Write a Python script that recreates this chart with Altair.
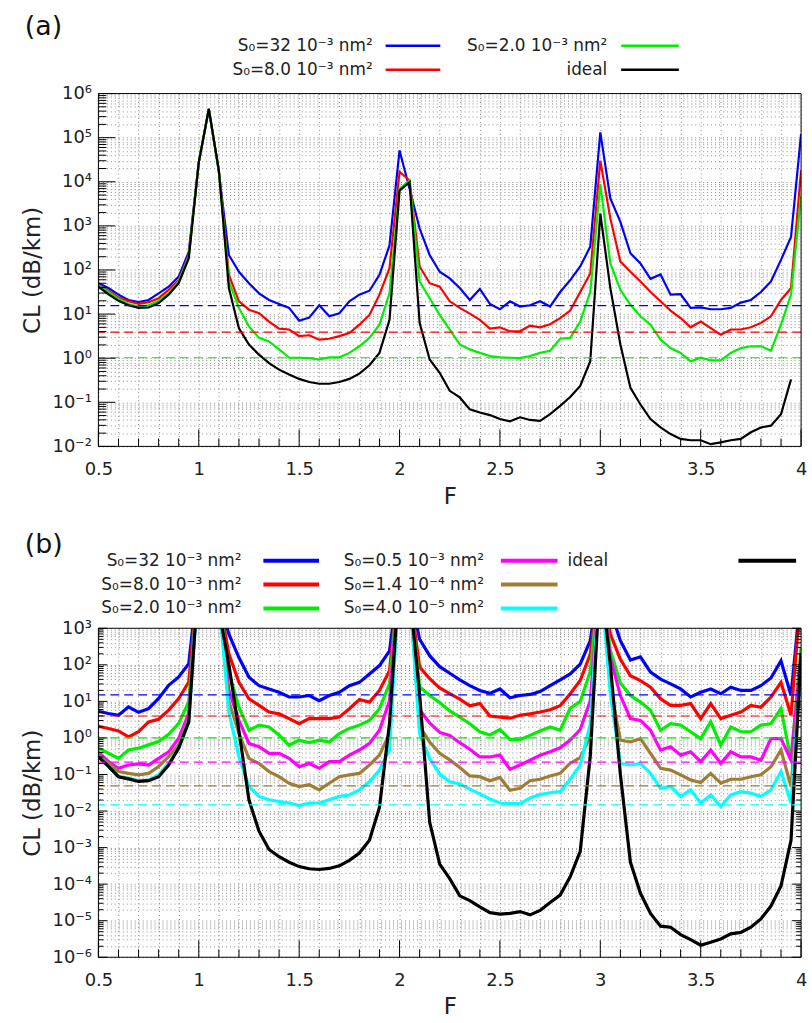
import altair as alt
import pandas as pd

FONT = "DejaVu Sans"

# ---------------- data (log10 of CL in dB/km) ----------------
F = [0.5, 0.55, 0.6, 0.65, 0.7, 0.75, 0.8, 0.85, 0.9, 0.95,
     1.0, 1.05, 1.1, 1.15, 1.2, 1.25, 1.3, 1.35, 1.4, 1.45,
     1.5, 1.55, 1.6, 1.65, 1.7, 1.75, 1.8, 1.85, 1.9, 1.95,
     2.0, 2.05, 2.1, 2.15, 2.2, 2.25, 2.3, 2.35, 2.4, 2.45,
     2.5, 2.55, 2.6, 2.65, 2.7, 2.75, 2.8, 2.85, 2.9, 2.95,
     3.0, 3.05, 3.1, 3.15, 3.2, 3.25, 3.3, 3.35, 3.4, 3.45,
     3.5, 3.55, 3.6, 3.65, 3.7, 3.75, 3.8, 3.85, 3.9, 3.95,
     4.0]

# panel (a)
A_S32 = [1.70, 1.59, 1.44, 1.32, 1.27, 1.32, 1.47, 1.62, 1.85, 2.41,
         4.44, 5.65, 4.22, 2.34, 1.96, 1.70, 1.47, 1.32, 1.23, 1.14,
         0.85, 0.92, 1.20, 0.95, 1.02, 1.29, 1.44, 1.53, 1.89, 2.56,
         4.71, 3.84, 2.94, 2.34, 1.96, 1.81, 1.59, 1.32, 1.57, 1.23,
         1.11, 1.29, 1.17, 1.20, 1.29, 1.17, 1.50, 1.77, 2.08, 2.53,
         5.12, 3.62, 3.09, 2.38, 2.15, 1.80, 1.90, 1.44, 1.45, 1.14,
         1.15, 1.11, 1.11, 1.14, 1.26, 1.32, 1.50, 1.74, 2.23, 2.75,
         5.08]
A_S8 = [1.66, 1.53, 1.38, 1.29, 1.23, 1.27, 1.36, 1.55, 1.77, 2.34,
        4.44, 5.65, 4.26, 1.89, 1.29, 1.10, 1.02, 0.83, 0.67, 0.65,
        0.50, 0.52, 0.42, 0.44, 0.50, 0.57, 0.76, 0.98, 1.44, 2.04,
        4.23, 4.03, 2.08, 1.70, 1.62, 1.29, 1.14, 1.01, 0.87, 0.67,
        0.70, 0.61, 0.61, 0.74, 0.70, 0.77, 0.91, 1.08, 1.50, 1.92,
        4.48, 3.17, 2.19, 1.96, 1.74, 1.50, 1.29, 1.08, 0.91, 0.70,
        0.83, 0.68, 0.53, 0.65, 0.65, 0.70, 0.80, 0.95, 1.32, 1.59,
        4.26]
A_S2 = [1.65, 1.50, 1.35, 1.23, 1.17, 1.20, 1.30, 1.47, 1.74, 2.30,
        4.44, 5.65, 4.26, 1.74, 1.14, 0.72, 0.46, 0.38, 0.20, 0.01,
        0.01, 0.00, -0.03, 0.02, 0.02, 0.12, 0.27, 0.46, 0.76, 1.47,
        3.84, 4.03, 1.74, 1.36, 0.98, 0.65, 0.31, 0.20, 0.12, 0.05,
        0.02, 0.01, 0.00, 0.05, 0.12, 0.17, 0.44, 0.46, 0.83, 1.50,
        3.95, 2.15, 1.55, 1.21, 0.95, 0.76, 0.42, 0.23, 0.12, -0.07,
        0.01, -0.05, -0.05, 0.12, 0.23, 0.27, 0.27, 0.17, 0.76, 1.44,
        3.69]
A_IDEAL = [1.62, 1.45, 1.30, 1.20, 1.14, 1.15, 1.25, 1.44, 1.70, 2.26,
           4.44, 5.65, 4.26, 1.59, 0.68, 0.31, 0.08, -0.11, -0.26, -0.37,
           -0.47, -0.54, -0.58, -0.58, -0.54, -0.47, -0.35, -0.16, 0.12, 0.87,
           3.80, 3.99, 0.80, -0.03, -0.33, -0.74, -0.89, -1.16, -1.23, -1.29,
           -1.38, -1.43, -1.34, -1.40, -1.42, -1.27, -1.08, -0.88, -0.63, -0.07,
           3.28, 1.59, 0.31, -0.67, -1.05, -1.38, -1.57, -1.72, -1.83, -1.86,
           -1.86, -1.95, -1.91, -1.86, -1.83, -1.68, -1.57, -1.53, -1.27, -0.48,
           None]
A_LEVELS = [1.19, 0.59, 0.01]          # dashed reference levels (log10)

# panel (b)
B_S32 = [0.73, 0.67, 0.62, 0.85, 0.70, 0.80, 1.08, 1.44, 1.67, 2.03,
         4.5, 5.5, 3.8, 2.84, 2.20, 1.66, 1.43, 1.34, 1.25, 1.12,
         1.12, 1.16, 1.02, 1.16, 1.25, 1.43, 1.52, 1.75, 1.98, 2.38,
         4.5, 4.0, 2.70, 2.25, 1.95, 1.77, 1.59, 1.43, 1.30, 1.22,
         1.34, 1.10, 1.16, 1.19, 1.27, 1.43, 1.59, 1.75, 2.02, 2.66,
         4.5, 3.5, 2.66, 2.13, 2.22, 1.80, 1.61, 1.48, 1.34, 1.12,
         1.25, 1.34, 1.21, 1.39, 1.30, 1.30, 1.43, 1.64, 2.11, 1.16,
         4.0]
B_S8 = [0.32, 0.26, 0.19, 0.03, 0.17, 0.44, 0.51, 0.76, 1.08, 1.53,
        4.5, 5.5, 3.8, 2.3, 1.52, 1.07, 0.89, 0.71, 0.66, 0.53,
        0.39, 0.53, 0.53, 0.53, 0.57, 0.80, 1.05, 0.98, 1.30, 1.84,
        4.5, 4.0, 1.94, 1.62, 1.37, 1.21, 1.06, 0.88, 0.94, 0.60,
        0.57, 0.54, 0.62, 0.66, 0.71, 0.77, 0.88, 1.21, 1.57, 2.29,
        4.5, 2.84, 2.15, 1.70, 1.57, 1.39, 1.07, 0.89, 0.89, 0.94,
        0.53, 0.94, 0.53, 0.62, 0.71, 0.89, 0.84, 1.12, 1.52, 0.62,
        4.0]
B_S2 = [-0.28, -0.42, -0.56, -0.33, -0.28, -0.19, -0.10, 0.10, 0.40, 0.99,
        4.5, 5.5, 3.8, 1.8, 0.84, 0.21, 0.35, 0.30, 0.08, -0.20,
        -0.06, -0.13, -0.06, -0.11, 0.12, 0.26, 0.35, 0.48, 0.80, 1.48,
        4.5, 4.0, 1.40, 1.16, 0.97, 0.74, 0.57, 0.39, 0.17, 0.08,
        0.23, -0.04, -0.05, 0.07, 0.19, 0.30, 0.21, 0.81, 1.00, 1.82,
        4.5, 2.4, 1.5, 1.16, 0.98, 0.76, 0.21, 0.39, 0.35, 0.17,
        -0.02, 0.44, -0.20, 0.30, 0.17, 0.17, 0.35, 0.39, 0.80, -0.61,
        2.48]
B_S05 = [-0.38, -0.65, -0.83, -0.74, -0.71, -0.74, -0.56, -0.38, -0.01, 0.67,
         4.5, 5.5, 3.8, 1.3, 0.48, -0.15, -0.24, -0.42, -0.42, -0.56,
         -0.79, -0.70, -0.83, -0.65, -0.65, -0.47, -0.33, -0.15, 0.21, 1.02,
         4.5, 4.0, 0.77, 0.41, 0.15, 0.07, -0.13, -0.31, -0.52, -0.52,
         -0.47, -0.86, -0.74, -0.61, -0.47, -0.38, -0.27, -0.06, 0.23, 1.02,
         4.5, 2.2, 1.16, 0.53, 0.48, 0.21, -0.33, -0.24, -0.47, -0.38,
         -0.65, -0.33, -0.70, -0.38, -0.52, -0.52, -0.61, -0.02, -0.02, -0.61,
         2.3]
B_S014 = [-0.47, -0.69, -0.92, -0.97, -1.01, -0.97, -0.78, -0.51, -0.19, 0.53,
          4.5, 5.5, 3.8, 1.0, 0.12, -0.56, -0.70, -0.92, -1.06, -1.24,
          -1.33, -1.28, -1.42, -1.24, -1.06, -1.01, -0.97, -0.74, -0.47, 0.12,
          4.5, 4.0, 0.32, -0.11, -0.42, -0.60, -0.81, -1.04, -1.06, -1.17,
          -1.08, -1.43, -1.38, -1.17, -1.13, -1.04, -0.97, -0.69, -0.54, 0.05,
          4.5, 1.4, -0.06, -0.11, -0.02, -0.42, -0.83, -0.88, -1.01, -1.15,
          -1.22, -0.97, -1.24, -1.13, -1.13, -1.06, -1.01, -0.79, -0.33, -1.33,
          2.0]
B_S004 = [-0.51, -0.78, -1.06, -1.10, -1.17, -1.15, -1.01, -0.69, -0.28, 0.44,
          4.5, 5.5, 3.8, 0.7, -0.52, -1.33, -1.60, -1.69, -1.74, -1.78,
          -1.85, -1.78, -1.78, -1.69, -1.60, -1.56, -1.42, -1.20, -0.88, -0.33,
          4.5, 4.0, 0.12, -0.56, -0.99, -1.20, -1.26, -1.40, -1.53, -1.67,
          -1.78, -1.79, -1.80, -1.64, -1.55, -1.50, -1.47, -1.13, -0.74, 0.39,
          4.5, 1.2, -0.70, -0.74, -0.70, -0.97, -1.38, -1.33, -1.60, -1.42,
          -1.78, -1.56, -1.87, -1.56, -1.47, -1.51, -1.60, -1.42, -0.92, -1.78,
          2.0]
B_IDEAL = [-0.51, -0.78, -1.06, -1.12, -1.19, -1.17, -1.06, -0.74, -0.28, 0.44,
           4.5, 5.5, 3.5, 2.0, 0.2, -1.7, -2.55, -3.05, -3.25, -3.4,
           -3.52, -3.58, -3.6, -3.57, -3.5, -3.35, -3.15, -2.8, -1.9, 0.4,
           4.5, 4.0, 1.2, -2.3, -3.45, -3.85, -4.32, -4.45, -4.62, -4.78,
           -4.82, -4.8, -4.75, -4.84, -4.72, -4.5, -4.3, -3.8, -3.1, -0.5,
           4.5, 2.0, -1.0, -3.4, -4.25, -4.8, -5.15, -5.18, -5.38, -5.52,
           -5.67, -5.59, -5.5, -5.36, -5.32, -5.18, -4.95, -4.6, -4.05, -2.8,
           2.3]
B_LEVELS = [1.18, 0.60, 0.0, -0.66, -1.31, -1.83]

N32 = "S\u2080=32 10\u207b\u00b3 nm\u00b2"
N8 = "S\u2080=8.0 10\u207b\u00b3 nm\u00b2"
N2 = "S\u2080=2.0 10\u207b\u00b3 nm\u00b2"
N05 = "S\u2080=0.5 10\u207b\u00b3 nm\u00b2"
N014 = "S\u2080=1.4 10\u207b\u2074 nm\u00b2"
N004 = "S\u2080=4.0 10\u207b\u2075 nm\u00b2"
NID = "ideal"

A_NAMES = [N32, N8, N2, NID]
A_LOGS = [A_S32, A_S8, A_S2, A_IDEAL]
B_NAMES = [N32, N8, N2, N05, N014, N004, NID]
B_LOGS = [B_S32, B_S8, B_S2, B_S05, B_S014, B_S004, B_IDEAL]

# ---------------- styles ----------------
COLORS = {N32: "#0000ff", N8: "#ff0000", N2: "#00ee00", N05: "#ff00ff",
          N014: "#a07d35", N004: "#00ffff", NID: "#000000"}
CS = alt.Scale(domain=list(COLORS.keys()), range=list(COLORS.values()))

W = 707
HA = 355
HB = 331


def series_frame(names, logs):
    rows = []
    for name, vals in zip(names, logs):
        for f, v in zip(F, vals):
            if v is None:
                continue
            rows.append({"F": f, "CL": 10 ** v, "series": name})
    return pd.DataFrame(rows)


def level_frame(names, levels):
    return pd.DataFrame({"series": names[:len(levels)], "CL": [10 ** v for v in levels]})


SUP = "['\u207b\u2076','\u207b\u2075','\u207b\u2074','\u207b\u00b3','\u207b\u00b2','\u207b\u00b9','\u2070','\u00b9','\u00b2','\u00b3','\u2074','\u2075','\u2076']"
YLABEL = ("abs(log(datum.value)/LN10 - round(log(datum.value)/LN10)) < 0.001 ? "
          "'10' + " + SUP + "[round(log(datum.value)/LN10) + 6] : ''")
XLABEL = "abs(datum.value*2 - round(datum.value*2)) < 0.001 ? format(datum.value, '~g') : ''"

XTICKS = [round(0.5 + 0.1 * i, 1) for i in range(36)]
XMAJ = [v for v in XTICKS if abs(v * 2 - round(v * 2)) < 1e-6]
XMIN = [v for v in XTICKS if v not in XMAJ]


def yticks(lo, hi):
    maj, mn = [], []
    for e in range(lo, hi + 1):
        maj.append(10.0 ** e)
        if e < hi:
            for m in range(2, 10):
                mn.append(m * 10.0 ** e)
    return maj, mn


def panel(names, logs, levels, ylo, yhi, H, lw, ylen_maj, ylen_min, mirror):
    xs = alt.Scale(domain=[0.5, 4.0], nice=False, zero=False)
    ys = alt.Scale(type="log", domain=[10.0 ** ylo, 10.0 ** yhi], nice=False)
    ymaj, ymin = yticks(ylo, yhi)
    xaxis = alt.Axis(values=XTICKS, labelExpr=XLABEL, title="F", grid=True,
                     gridDash=[1, 3], gridColor="#8c8c8c", gridWidth=1,
                     ticks=False, domain=False, labelFont=FONT, titleFont=FONT,
                     labelFontSize=18, titleFontSize=23, titleFontWeight="normal",
                     labelColor="#222", titleColor="#222", labelPadding=14,
                     titlePadding=7, labelFlush=False, labelOverlap=False)
    yaxis = alt.Axis(values=ymaj + ymin, labelExpr=YLABEL, title="CL (dB/km)", grid=True,
                     gridDash=[1, 3], gridColor="#8c8c8c", gridWidth=1,
                     ticks=False, domain=False, labelFont=FONT, titleFont=FONT,
                     labelFontSize=18, titleFontSize=23, titleFontWeight="normal",
                     labelColor="#222", titleColor="#222", labelPadding=7,
                     titlePadding=8, labelOverlap=False, labelFlush=False)

    df = series_frame(names, logs)
    lv = level_frame(names, levels)

    lines = alt.Chart(df).mark_line(clip=True, strokeWidth=lw).encode(
        x=alt.X("F:Q", scale=xs, axis=xaxis),
        y=alt.Y("CL:Q", scale=ys, axis=yaxis),
        color=alt.Color("series:N", scale=CS, legend=None))
    dashed = alt.Chart(lv).mark_rule(strokeDash=[9, 5], strokeWidth=1.2).encode(
        y=alt.Y("CL:Q", scale=ys, axis=yaxis),
        color=alt.Color("series:N", scale=CS, legend=None))

    def xt(vals, ln):
        return alt.Chart(pd.DataFrame({"v": vals})).mark_rule(color="black", strokeWidth=1).encode(
            x=alt.X("v:Q", scale=xs, axis=xaxis), y=alt.value(H), y2=alt.value(H - ln))

    def yt(vals, ln, right=False):
        x1, x2 = (W - ln, W) if right else (0, ln)
        return alt.Chart(pd.DataFrame({"v": vals})).mark_rule(color="black", strokeWidth=1).encode(
            y=alt.Y("v:Q", scale=ys, axis=yaxis), x=alt.value(x1), x2=alt.value(x2))

    frame = alt.Chart(pd.DataFrame({"k": [0]})).mark_rect(
        filled=False, color="black", strokeWidth=1).encode(
        x=alt.value(0), x2=alt.value(W), y=alt.value(0), y2=alt.value(H))

    layers = [lines, dashed, xt(XMAJ, 17), xt(XMIN, 8), yt(ymaj, ylen_maj), yt(ymin, ylen_min)]
    if mirror:
        layers += [yt(ymaj, ylen_maj, True), yt(ymin, ylen_min, True)]
    layers.append(frame)
    return alt.layer(*layers).properties(width=W, height=H)


# ---------------- legends (layout constants, relative to plot origin) ----------------
LEG_A_LAYOUT = {N32: (276, 289, 344, 38), N8: (276, 289, 344, 62),
                N2: (512, 526, 584, 38), NID: (512, 526, 584, 62)}
LEG_B_LAYOUT = {N32: (144, 166, 222, 53), N8: (144, 166, 222, 77), N2: (144, 166, 222, 101),
                N05: (388, 405, 462, 53), N014: (388, 405, 462, 77), N004: (388, 405, 462, 101),
                NID: (513, 644, 702, 53)}


def legend(names, layout, H, tag, tag_y, lw, fs):
    rows = []
    for n in names:
        tx, l1, l2, y = layout[n]
        rows.append({"series": n, "tx": tx, "l1": l1, "l2": l2, "ty": y})
    d = pd.DataFrame(rows)
    txt = alt.Chart(d).mark_text(align="right", baseline="middle", font=FONT,
                                 fontSize=fs, color="#222").encode(
        x=alt.X("tx:Q", scale=None, axis=None), y=alt.Y("ty:Q", scale=None, axis=None),
        text="series:N")
    ln = alt.Chart(d).mark_rule(strokeWidth=lw).encode(
        x=alt.X("l1:Q", scale=None, axis=None), x2="l2:Q",
        y=alt.Y("ty:Q", scale=None, axis=None),
        color=alt.Color("series:N", scale=CS, legend=None))
    lab = alt.Chart(pd.DataFrame({"t": [tag]})).mark_text(
        align="left", baseline="middle", font=FONT, fontSize=27, color="#111").encode(
        text="t:N", x=alt.value(-74), y=alt.value(tag_y))
    return alt.layer(txt, ln, lab).properties(width=W, height=H)


leg_a = legend(A_NAMES, LEG_A_LAYOUT, 77, "(a)", 19, 2.5, 17)
plot_a = panel(A_NAMES, A_LOGS, A_LEVELS, -2, 6, HA, 2.2, 17, 8, False)
leg_b = legend(B_NAMES, LEG_B_LAYOUT, 112, "(b)", 37, 4, 17)
plot_b = panel(B_NAMES, B_LOGS, B_LEVELS, -6, 3, HB, 3.2, 9, 5, True)

chart = alt.vconcat(leg_a, plot_a, leg_b, plot_b, spacing=0).configure_view(
    stroke=None).properties(background="white",
                            padding={"left": 21, "top": 5, "right": 5, "bottom": 0})

chart.save("out.html", embed_options={"renderer": "svg", "actions": False})
